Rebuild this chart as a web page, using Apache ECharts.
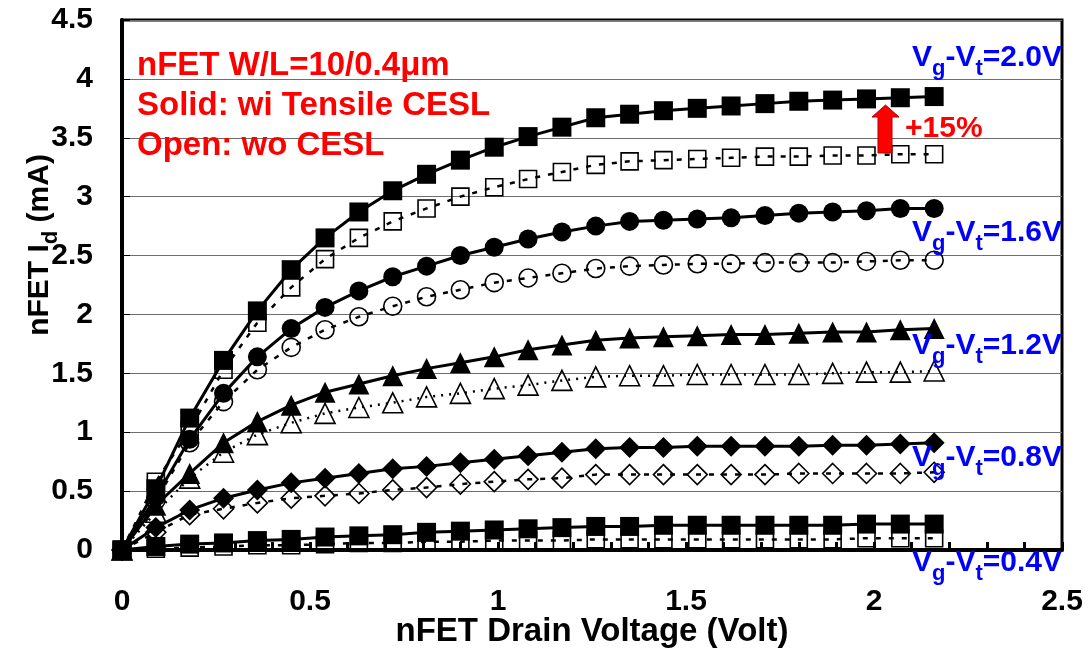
<!DOCTYPE html>
<html>
<head>
<meta charset="utf-8">
<script src="https://cdn.jsdelivr.net/npm/echarts@6/dist/echarts.min.js"></script>
<style>
  html, body { margin: 0; padding: 0; background: #fff; }
  #chart { width: 1091px; height: 652px; }
</style>
</head>
<body>
<div id="chart"></div>
<script>
// drain voltage points (V)
const vd = [0, 0.09, 0.18, 0.27, 0.36, 0.45, 0.54, 0.63, 0.72, 0.81, 0.9, 0.99, 1.08,
  1.17, 1.26, 1.35, 1.44, 1.53, 1.62, 1.71, 1.8, 1.89, 1.98, 2.07, 2.16];

// Id (mA), solid = with tensile CESL, open = without CESL
const solid20 = [0, 0.52, 1.12, 1.61, 2.03, 2.38, 2.65, 2.87, 3.05, 3.19, 3.31, 3.42, 3.51, 3.59, 3.67, 3.70, 3.73, 3.75, 3.77, 3.79, 3.81, 3.82, 3.83, 3.84, 3.85];
const open20 = [0, 0.58, 1.02, 1.53, 1.93, 2.23, 2.47, 2.65, 2.79, 2.90, 3.00, 3.08, 3.15, 3.21, 3.27, 3.30, 3.31, 3.32, 3.33, 3.34, 3.34, 3.35, 3.35, 3.36, 3.36];
const solid16 = [0, 0.45, 0.94, 1.33, 1.64, 1.88, 2.06, 2.20, 2.32, 2.41, 2.50, 2.57, 2.64, 2.70, 2.75, 2.79, 2.80, 2.81, 2.82, 2.84, 2.86, 2.87, 2.88, 2.90, 2.90];
const open16 = [0, 0.42, 0.91, 1.26, 1.53, 1.72, 1.87, 1.98, 2.07, 2.15, 2.21, 2.27, 2.31, 2.35, 2.39, 2.41, 2.42, 2.43, 2.43, 2.44, 2.44, 2.44, 2.45, 2.46, 2.46];
const solid12 = [0, 0.38, 0.65, 0.91, 1.09, 1.23, 1.34, 1.41, 1.48, 1.54, 1.59, 1.64, 1.70, 1.74, 1.78, 1.80, 1.81, 1.82, 1.83, 1.83, 1.84, 1.85, 1.85, 1.87, 1.88];
const open12 = [0, 0.32, 0.61, 0.83, 0.98, 1.08, 1.16, 1.21, 1.25, 1.30, 1.33, 1.37, 1.40, 1.44, 1.47, 1.48, 1.48, 1.49, 1.49, 1.49, 1.49, 1.50, 1.51, 1.51, 1.52];
const solid08 = [0, 0.19, 0.34, 0.44, 0.51, 0.57, 0.61, 0.65, 0.69, 0.71, 0.74, 0.77, 0.80, 0.83, 0.86, 0.87, 0.87, 0.88, 0.88, 0.88, 0.88, 0.89, 0.89, 0.90, 0.91];
const open08 = [0, 0.15, 0.30, 0.35, 0.40, 0.44, 0.46, 0.48, 0.51, 0.53, 0.56, 0.58, 0.60, 0.61, 0.64, 0.64, 0.64, 0.64, 0.64, 0.64, 0.65, 0.65, 0.65, 0.65, 0.66];
const solid04 = [0, 0.03, 0.05, 0.06, 0.08, 0.09, 0.11, 0.12, 0.13, 0.15, 0.16, 0.17, 0.18, 0.19, 0.20, 0.20, 0.21, 0.21, 0.21, 0.21, 0.21, 0.21, 0.22, 0.22, 0.22];
const open04 = [0, 0.01, 0.02, 0.03, 0.04, 0.04, 0.05, 0.06, 0.06, 0.07, 0.07, 0.08, 0.08, 0.08, 0.09, 0.09, 0.09, 0.09, 0.09, 0.09, 0.09, 0.09, 0.10, 0.10, 0.10];

const FONT = 'Liberation Sans, Arial, sans-serif';

function pts(ys) {
  return vd.map((x, i) => [x, ys[i]]);
}

function solidSeries(name, ys, symbol, size) {
  return {
    name: name,
    type: 'line',
    data: pts(ys),
    symbol: symbol,
    symbolSize: size,
    lineStyle: { color: '#000', width: 3 },
    itemStyle: { color: '#000' },
    z: 3
  };
}

function openSeries(name, ys, symbol, size, dash) {
  return {
    name: name,
    type: 'line',
    data: pts(ys),
    symbol: symbol,
    symbolSize: size,
    lineStyle: { color: '#000', width: 2.5, type: dash },
    itemStyle: { color: 'rgba(255,255,255,0)', borderColor: '#000', borderWidth: 1.6 },
    z: 2
  };
}

const chart = echarts.init(document.getElementById('chart'));

// main text sits on top of the line box, subscript is pushed to the bottom
const sub = {
  m: { fontSize: 30, lineHeight: 30, verticalAlign: 'top', fontWeight: 'bold', fontFamily: FONT },
  s: { fontSize: 22, lineHeight: 37, verticalAlign: 'bottom', fontWeight: 'bold', fontFamily: FONT }
};

function blueLabel(val, top) {
  return {
    type: 'text',
    right: 29,
    top: top,
    z: 50,
    style: {
      text: '{m|V}{s|g}{m|-V}{s|t}{m|=' + val + '}',
      rich: {
        m: Object.assign({}, sub.m, { fill: '#0000ff' }),
        s: Object.assign({}, sub.s, { fill: '#0000ff' })
      }
    }
  };
}

const option = {
  animation: false,
  backgroundColor: '#fff',
  grid: {
    left: 122, right: 29, top: 20, bottom: 102,
    outerBoundsMode: 'none',
    containLabel: false,
    show: true, borderColor: '#000', borderWidth: 3
  },
  xAxis: {
    type: 'value',
    min: 0, max: 2.5, interval: 0.5,
    name: 'nFET Drain Voltage (Volt)',
    nameLocation: 'middle',
    nameGap: 65,
    nameMoveOverlap: false,
    nameTextStyle: { fontSize: 33, fontWeight: 'bold', color: '#000', fontFamily: FONT },
    axisLine: { lineStyle: { color: '#000', width: 4 } },
    axisTick: { inside: true, length: 8, lineStyle: { color: '#000', width: 3 } },
    minorTick: { show: true, splitNumber: 5, length: 8, lineStyle: { color: '#000', width: 3 } },
    axisLabel: { fontSize: 30, fontWeight: 'bold', color: '#000', margin: 37, fontFamily: FONT },
    splitLine: { show: false }
  },
  yAxis: {
    type: 'value',
    min: 0, max: 4.5, interval: 0.5,
    name: '{m|nFET I}{s|d}{m| (mA)}',
    nameLocation: 'middle',
    nameGap: 60,
    nameMoveOverlap: false,
    nameTextStyle: {
      color: '#000',
      padding: [0, 0, 0, 80],
      rich: {
        m: Object.assign({}, sub.m, { color: '#000' }),
        s: Object.assign({}, sub.s, { color: '#000' })
      }
    },
    axisLine: { lineStyle: { color: '#000', width: 4 } },
    axisTick: { inside: true, length: 8, lineStyle: { color: '#000', width: 1 } },
    axisLabel: { fontSize: 30, fontWeight: 'bold', color: '#000', margin: 29, fontFamily: FONT },
    splitLine: { show: true, lineStyle: { color: '#6e6e6e', width: 1.2 } }
  },
  series: [
    solidSeries('2.0 wi', solid20, 'rect', 19),
    openSeries('2.0 wo', open20, 'rect', 17, [5, 8]),
    solidSeries('1.6 wi', solid16, 'circle', 19),
    openSeries('1.6 wo', open16, 'circle', 18, [5, 8]),
    solidSeries('1.2 wi', solid12, 'triangle', 21),
    openSeries('1.2 wo', open12, 'triangle', 20, [2, 6]),
    solidSeries('0.8 wi', solid08, 'diamond', 21),
    openSeries('0.8 wo', open08, 'diamond', 20, [5, 8]),
    solidSeries('0.4 wi', solid04, 'rect', 19),
    openSeries('0.4 wo', open04, 'rect', 17, [5, 8])
  ],
  graphic: [
    {
      type: 'text',
      left: 137,
      top: 46,
      z: 50,
      style: {
        text: 'nFET W/L=10/0.4\u03bcm\nSolid: wi Tensile CESL\nOpen: wo CESL',
        fill: '#ff0000',
        font: 'bold 33px ' + FONT,
        lineHeight: 40
      }
    },
    {
      type: 'polygon',
      z: 50,
      shape: {
        points: [[872, 117], [885.5, 105], [899, 117], [892, 117], [892, 153], [878, 153], [878, 117]]
      },
      style: { fill: '#ff0000', stroke: '#b00000', lineWidth: 1 }
    },
    {
      type: 'text',
      left: 905,
      top: 114,
      z: 50,
      style: { text: '+15%', fill: '#ff0000', font: 'bold 30px ' + FONT }
    },
    blueLabel('2.0V', 43),
    blueLabel('1.6V', 218),
    blueLabel('1.2V', 331),
    blueLabel('0.8V', 443),
    blueLabel('0.4V', 548)
  ]
};

chart.setOption(option);
</script>
</body>
</html>
